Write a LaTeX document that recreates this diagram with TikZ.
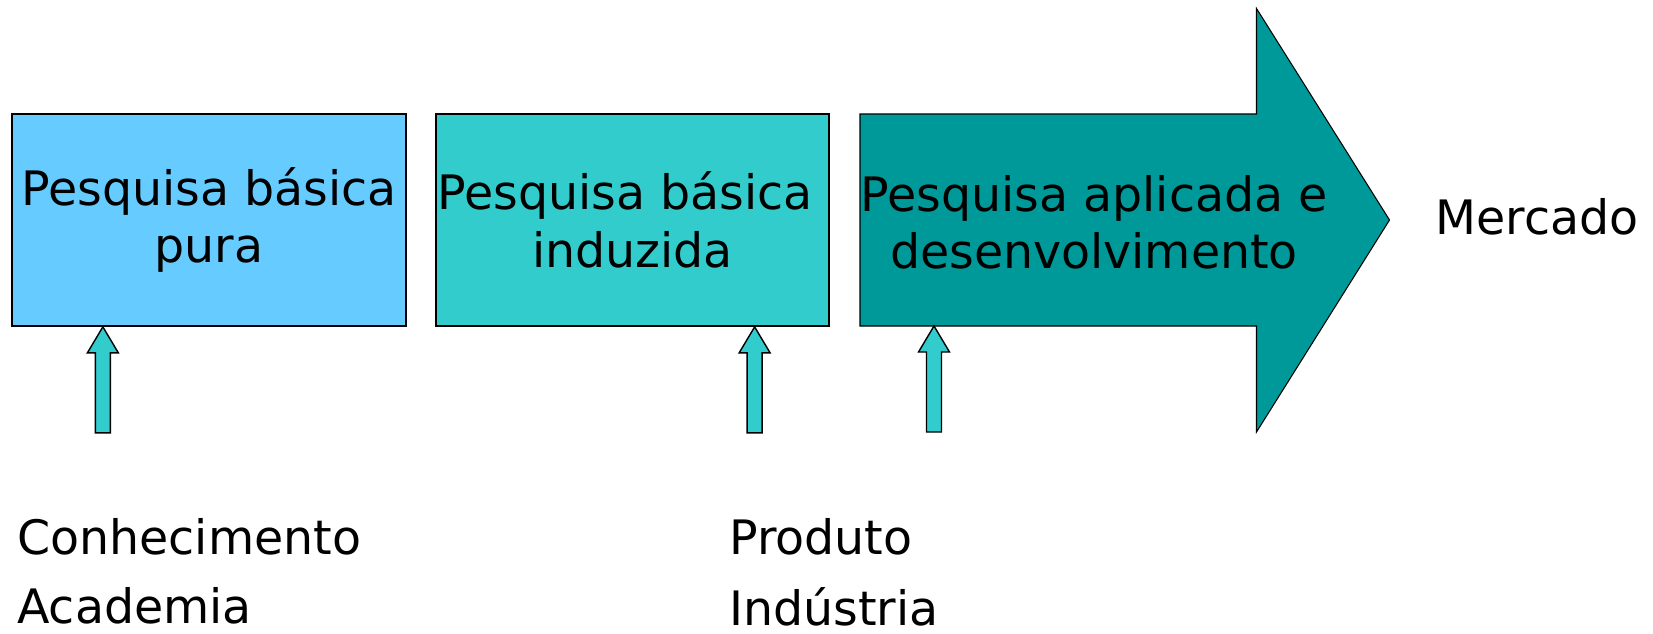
\documentclass[tikz,border=0pt]{standalone}
\usepackage{fontspec}
\setmainfont{DejaVu Sans}
\usetikzlibrary{positioning,calc}
\definecolor{azulclaro}{HTML}{66CCFF}
\definecolor{turquesa}{HTML}{33CCCC}
\definecolor{petroleo}{HTML}{009999}
\tikzset{
  etapa/.style={draw=black, line width=1pt, minimum width=7.87cm, minimum height=4.24cm,
    align=center, inner sep=0pt, font=\fontsize{27}{32.6}\selectfont},
  rotulo/.style={inner sep=0pt, anchor=base west, font=\fontsize{27}{32.6}\selectfont},
  impulso/.pic={
    \draw[fill=turquesa, line width=0.8pt] (-0.15,-2.12) -- (0.15,-2.12) -- (0.15,-0.52)
      -- (0.31,-0.52) -- (0,0) -- (-0.31,-0.52) -- (-0.15,-0.52) -- cycle;
  }
}

\begin{document}
\begin{tikzpicture}
          \useasboundingbox (0,0) rectangle (33.06,12.66);

          \node[etapa, fill=azulclaro] (pura) at (4.18, 8.26) {Pesquisa básica\\pura};
          \node[etapa, fill=turquesa] (induzida) at (12.65, 8.26) {Pesquisa básica\hspace*{.32em}\\induzida};

          \coordinate (corpo) at (17.20, 6.14);
          \draw[fill=petroleo, line width=0.6pt] (17.20, 10.38) -- (25.13, 10.38) -- (25.13, 12.49)
            -- (27.79, 8.26) -- (25.13, 4.02) -- (25.13, 6.14) -- (corpo) -- cycle;
          \node[align=center, inner sep=0pt, font=\fontsize{27}{32.6}\selectfont] (aplicada) at (21.88, 8.22) {Pesquisa aplicada e\\desenvolvimento};

          \pic at ([xshift=1.83cm]pura.south west) {impulso};
          \pic at ([xshift=-1.51cm]induzida.south east) {impulso};
          \pic at ([xshift=1.48cm]corpo) {impulso};

          \node[rotulo] (mercado) at (28.70, 7.98) {Mercado};

          \node[rotulo] (conhecimento) at (0.34, 1.58) {Conhecimento};
          \node[rotulo] (academia) at (0.34, 0.20) {Academia};
          \node[rotulo] (produto) at (14.58, 1.58) {Produto};
          \node[rotulo] (industria) at (14.58, 0.16) {Indústria};
        \end{tikzpicture}
\end{document}
